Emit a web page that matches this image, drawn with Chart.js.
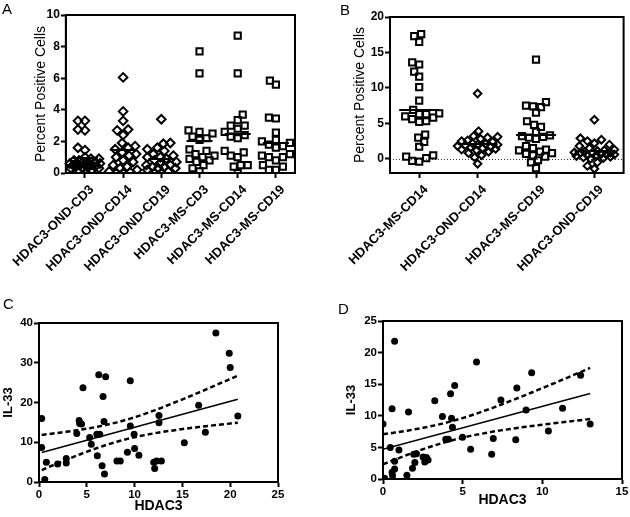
<!DOCTYPE html>
<html><head><meta charset="utf-8">
<script src="https://cdn.jsdelivr.net/npm/chart.js@4.4.0/dist/chart.umd.min.js"></script>
<style>
html,body{margin:0;padding:0;background:#fff;}
#wrap{position:relative;width:630px;height:517px;overflow:hidden;font-family:"Liberation Sans",Arial,Helvetica,sans-serif;background:#fff;}
canvas{position:absolute;}
.lbl{position:absolute;font-size:15px;line-height:1;color:#000;}
</style></head><body>
<div id="wrap">
<canvas id="cA" width="315" height="280" style="left:0;top:0"></canvas>
<canvas id="cB" width="315" height="280" style="left:315px;top:0"></canvas>
<canvas id="cC" width="315" height="237" style="left:0;top:280px"></canvas>
<canvas id="cD" width="315" height="237" style="left:315px;top:280px"></canvas>
<div class="lbl" style="left:2px;top:1px">A</div>
<div class="lbl" style="left:340px;top:2px">B</div>
<div class="lbl" style="left:3px;top:296px">C</div>
<div class="lbl" style="left:338px;top:301px">D</div>
</div>
<script>
// ---------- Panel A data ----------
const panelALabels = ['HDAC3-OND-CD3','HDAC3-OND-CD14','HDAC3-OND-CD19','HDAC3-MS-CD3','HDAC3-MS-CD14','HDAC3-MS-CD19'];
const aOndCd3 = [3.3,3.3,2.75,2.7,1.6,1.45,1.0,0.9,0.9,0.8,0.8,0.7,0.7,0.7,0.6,0.6,0.6,0.5,0.5,0.5,0.5,0.4,0.4,0.4,0.3,0.3,0.3,0.2,0.1,0.0];
const aOndCd14 = [6.05,3.9,3.3,2.75,2.7,2.4,1.9,1.7,1.6,1.5,1.3,1.2,1.1,1.0,0.8,0.7,0.5,0.4,0.3,0.2,0.1,0.05,0.0,0.0];
const aOndCd19 = [3.4,1.9,1.85,1.6,1.5,1.4,1.2,1.1,1.0,1.0,0.9,0.8,0.7,0.6,0.5,0.5,0.4,0.4,0.3,0.3,0.2,0.1,0.0,0.0];
const aMsCd3 = [7.7,6.3,2.7,2.6,2.5,2.3,2.2,2.1,1.5,1.4,1.2,1.1,1.0,0.9,0.8,0.7,0.5,0.3,0.1];
const aMsCd14 = [8.7,6.3,3.7,3.35,3.0,3.0,2.8,2.6,2.4,2.3,2.2,1.4,1.3,1.1,1.0,0.5,0.5,0.4,0.0];
const aMsCd19 = [5.85,5.6,3.45,3.5,2.55,2.1,2.0,1.9,1.8,1.7,1.6,1.2,1.1,1.0,1.0,0.8,0.5,0.4,0.2,0.2];
const panelAYTicks = [0,2,4,6,8,10];

// ---------- Panel B data ----------
const panelBLabels = ['HDAC3-MS-CD14','HDAC3-OND-CD14','HDAC3-MS-CD19','HDAC3-OND-CD19'];
const bMsCd14 = [17.6,17.3,16.5,13.6,13.3,12.3,11.6,10.1,8.2,6.9,6.4,6.3,6.3,6.0,5.8,5.6,5.3,5.2,3.4,3.0,2.4,1.7,0.5,0.3,0.1,-0.3,-0.4];
const bOndCd14 = [9.2,3.9,3.2,3.1,3.0,2.8,2.6,2.5,2.4,2.2,2.1,2.0,2.0,1.9,1.8,1.7,1.6,1.5,1.4,1.3,1.2,1.0,0.8,0.5,0.2,-0.7];
const bMsCd19 = [14.0,8.0,7.5,7.3,7.4,6.5,5.3,4.8,4.5,3.8,3.3,3.2,3.1,3.0,2.8,1.8,1.5,1.3,1.2,1.0,0.8,0.7,0.5,0.3,-0.2,-0.5,-1.3];
const bOndCd19 = [5.5,2.9,2.7,2.5,2.2,2.0,1.8,1.5,1.3,1.2,1.1,1.0,0.9,0.9,0.8,0.8,0.7,0.6,0.6,0.5,0.5,0.4,0.3,0.2,0.1,0.0,-0.5,-1.0,-1.4];
const panelBYTicks = [0,5,10,15,20];

// ---------- Panel C data (HDAC3 vs IL-33) ----------
const cHdac3 = [18.5,19.9,20.0,20.8,16.7,17.4,15.2,12.55,12.55,12.8,12.3,12.0,12.1,9.55,9.55,9.95,10.0,10.45,9.25,8.5,8.15,6.25,6.97,6.7,6.8,6.35,6.05,6.1,6.6,6.85,4.6,4.2,4.45,4.25,3.95,5.3,5.47,2.85,2.85,1.95,0.77,0.28,0.28,0.6];
const cIl33  = [37.5,32.4,28.8,16.6,19.3,12.5,9.9,16.7,14.9,5.3,5.3,5.0,3.4,25.5,14.1,12.0,8.4,6.7,7.5,5.3,5.3,27.0,26.5,21.5,15.2,12.0,12.0,6.6,4.1,2.0,23.7,15.5,14.6,14.7,12.2,11.2,9.5,5.9,4.8,4.5,5.0,16.0,8.7,0.6];

// ---------- Panel D data (HDAC3 vs IL-33) ----------
const dHdac3 = [0.73,5.87,9.33,12.4,4.5,4.24,8.4,3.25,7.4,11.27,8.98,0.57,1.6,3.73,4.3,4.36,0,13.0,10.38,4.99,3.94,4.1,6.92,8.33,5.5,6.82,0.46,1.0,0.73,1.93,2.1,2.0,2.52,2.62,2.73,2.83,1.85,0.73,0.57,0.6,1.5,0.1];
const dIl33  = [21.8,18.5,16.8,16.4,14.8,13.5,14.4,12.4,12.5,11.2,10.9,11.1,10.6,9.9,9.6,8.2,8.7,8.7,7.6,6.6,6.3,6.3,6.4,6.2,4.7,3.9,5.0,4.6,2.8,3.9,4.0,2.6,3.5,2.7,3.4,3.0,1.7,1.6,1.05,0.5,0.58,0.1];

const T95 = 2.02; // two-sided 95% t critical value, df ~ 40

// ---------- common ----------
const FONT = '"Liberation Sans", Arial, Helvetica, sans-serif';
Chart.defaults.font.family = FONT;
Chart.defaults.color = '#000';

const framePlugin = {
  id: 'frame',
  afterDraw(chart) {
    const {ctx, chartArea: a} = chart;
    ctx.save();
    ctx.strokeStyle = '#000';
    ctx.lineWidth = 2;
    ctx.strokeRect(a.left, a.top, a.right - a.left, a.bottom - a.top);
    ctx.restore();
  }
};

const swarmPlugin = {
  id: 'swarm',
  afterDatasetsUpdate(chart, args, opts) {
    const gap = opts.gap, spread = opts.spread;
    chart.data.datasets.forEach((ds, i) => {
      const meta = chart.getDatasetMeta(i);
      const pts = meta.data;
      if (!pts.length) return;
      const cx = chart.scales.x.getPixelForValue(i);
      const order = pts.map((p, k) => k).sort((a, b) => pts[b].y - pts[a].y);
      const placed = [];
      order.forEach((k, n) => {
        const p = pts[k];
        let best = 0, bestScore = -1;
        let found = false;
        for (let d = 0; d <= spread && !found; d += 1) {
          const sg = (n % 2 === 0) ? [1, -1] : [-1, 1];
          for (const s of sg) {
            const off = d * s;
            let minD = Infinity;
            for (const q of placed) {
              const dd = Math.hypot(q.x - (cx + off), q.y - p.y);
              if (dd < minD) minD = dd;
            }
            if (minD >= gap) { best = off; found = true; break; }
            if (minD > bestScore) { bestScore = minD; best = off; }
          }
        }
        p.x = cx + best;
        placed.push({x: p.x, y: p.y});
      });
    });
  }
};

const meanPlugin = {
  id: 'meanLine',
  afterDatasetsDraw(chart, args, opts) {
    const {ctx} = chart;
    const xs = chart.scales.x, ys = chart.scales.y;
    ctx.save();
    ctx.strokeStyle = '#000';
    ctx.lineWidth = 2;
    chart.data.datasets.forEach((ds, i) => {
      const vals = ds.data.map(d => d.y);
      const m = vals.reduce((s, v) => s + v, 0) / vals.length;
      const cx = xs.getPixelForValue(i), y = Math.round(ys.getPixelForValue(m));
      ctx.beginPath();
      ctx.moveTo(cx - opts.width / 2, y);
      ctx.lineTo(cx + opts.width / 2, y);
      ctx.stroke();
    });
    ctx.restore();
  }
};

const zeroLinePlugin = {
  id: 'zeroLine',
  beforeDatasetsDraw(chart, args, opts) {
    if (!opts.show) return;
    const {ctx, chartArea: a} = chart;
    const y = Math.round(chart.scales.y.getPixelForValue(0)) + 0.5;
    ctx.save();
    ctx.strokeStyle = '#333';
    ctx.lineWidth = 1;
    ctx.setLineDash([1, 2]);
    ctx.beginPath();
    ctx.moveTo(a.left, y);
    ctx.lineTo(a.right, y);
    ctx.stroke();
    ctx.restore();
  }
};

function tickGrid() {
  return {display: true, drawOnChartArea: false, drawTicks: true, tickLength: 5, tickWidth: 2, tickColor: '#000'};
}

function swarmChart(id, labels, series, shapes, radii, yMin, yMax, yTicks, box) {
  const datasets = series.map((vals, i) => ({
    data: vals.map(v => ({x: labels[i], y: v})),
    pointStyle: shapes[i],
    pointRadius: radii[i],
    pointHoverRadius: radii[i],
    borderColor: '#000',
    backgroundColor: 'rgba(0,0,0,0)',
    pointBorderWidth: 2,
    borderWidth: 2
  }));
  return new Chart(document.getElementById(id), {
    type: 'scatter',
    data: {labels, datasets},
    options: {
      responsive: false, animation: false, devicePixelRatio: 1,
      layout: {padding: {left: 0, top: box.top, right: box.right, bottom: 0}},
      plugins: {
        legend: {display: false}, tooltip: {enabled: false},
        swarm: {gap: box.gap, spread: box.spread},
        meanLine: {width: box.meanW},
        zeroLine: {show: box.zero}
      },
      scales: {
        x: {
          type: 'category', labels, offset: true,
          grid: tickGrid(),
          border: {display: true, color: '#000', width: 2},
          ticks: {maxRotation: 45, minRotation: 45, autoSkip: false, padding: 4, labelOffset: 7,
                  font: {size: 13, weight: 'bold'}},
          afterFit: s => { s.height = box.xh; }
        },
        y: {
          min: yMin, max: yMax,
          grid: tickGrid(),
          border: {display: true, color: '#000', width: 2},
          afterBuildTicks: s => { s.ticks = yTicks.map(v => ({value: v})); },
          ticks: {padding: 1, font: {size: 12, weight: 'bold'}},
          title: {display: true, text: 'Percent Positive Cells', font: {size: 14, weight: 'normal'},
                  padding: {top: box.titlePad, bottom: 0}},
          afterFit: s => { s.width = box.yw; }
        }
      }
    },
    plugins: [zeroLinePlugin, swarmPlugin, meanPlugin, framePlugin]
  });
}

function linFit(xs, ys) {
  const n = xs.length;
  const mx = xs.reduce((s, v) => s + v, 0) / n;
  const my = ys.reduce((s, v) => s + v, 0) / n;
  let sxx = 0, sxy = 0;
  for (let i = 0; i < n; i++) { sxx += (xs[i] - mx) ** 2; sxy += (xs[i] - mx) * (ys[i] - my); }
  const b = sxy / sxx, a = my - b * mx;
  let sse = 0;
  for (let i = 0; i < n; i++) sse += (ys[i] - a - b * xs[i]) ** 2;
  const s = Math.sqrt(sse / (n - 2));
  return {a, b, half: x => T95 * s * Math.sqrt(1 / n + (x - mx) ** 2 / sxx)};
}

function regChart(id, xs, ys, xMax, xStep, yMax, yStep, box) {
  const fit = linFit(xs, ys);
  const ux = [...new Set(xs)].sort((p, q) => p - q);
  const xLo = ux[0], xHi = ux[ux.length - 1];
  const pts = xs.map((x, i) => ({x, y: ys[i]}));
  const lineStyle = {showLine: true, pointRadius: 0, pointHoverRadius: 0, borderColor: '#000', backgroundColor: '#000', tension: 0};
  return new Chart(document.getElementById(id), {
    type: 'scatter',
    data: {datasets: [
      Object.assign({data: [{x: xLo, y: fit.a + fit.b * xLo}, {x: xHi, y: fit.a + fit.b * xHi}], borderWidth: 1.5}, lineStyle),
      Object.assign({data: ux.map(x => ({x, y: fit.a + fit.b * x + fit.half(x)})), borderWidth: 2.5, borderDash: [5, 3]}, lineStyle),
      Object.assign({data: ux.map(x => ({x, y: fit.a + fit.b * x - fit.half(x)})), borderWidth: 2.5, borderDash: [5, 3]}, lineStyle),
      {data: pts, pointRadius: 3.5, pointHoverRadius: 3.5, backgroundColor: '#000', borderWidth: 0, pointBorderWidth: 0}
    ]},
    options: {
      responsive: false, animation: false, devicePixelRatio: 1,
      layout: {padding: {left: 0, top: box.top, right: box.right, bottom: 0}},
      plugins: {legend: {display: false}, tooltip: {enabled: false}},
      scales: {
        x: {
          type: 'linear', min: 0, max: xMax,
          grid: tickGrid(),
          border: {display: true, color: '#000', width: 2},
          ticks: {stepSize: xStep, padding: 1, font: {size: 11.5, weight: 'bold'}},
          title: {display: true, text: 'HDAC3', font: {size: 14, weight: 'bold'}, padding: {top: 0, bottom: box.xTitlePad}},
          afterFit: s => { s.height = box.xh; }
        },
        y: {
          min: 0, max: yMax,
          grid: tickGrid(),
          border: {display: true, color: '#000', width: 2},
          ticks: {stepSize: yStep, padding: 1, font: {size: 11.5, weight: 'bold'}},
          title: {display: true, text: 'IL-33', font: {size: 13, weight: 'bold'}, padding: {top: box.yTitlePad, bottom: 0}},
          afterFit: s => { s.width = box.yw; }
        }
      }
    },
    plugins: [framePlugin]
  });
}

swarmChart('cA', panelALabels, [aOndCd3, aOndCd14, aOndCd19, aMsCd3, aMsCd14, aMsCd19],
  ['rectRot', 'rectRot', 'rectRot', 'rect', 'rect', 'rect'], [4.3, 4.3, 4.3, 4.4, 4.4, 4.4],
  0, 10, panelAYTicks,
  {top: 15, right: 20, xh: 107, yw: 52, titlePad: 18.6, gap: 7, spread: 15, meanW: 26, zero: false});

swarmChart('cB', panelBLabels, [bMsCd14, bOndCd14, bMsCd19, bOndCd19],
  ['rect', 'rectRot', 'rect', 'rectRot'], [4.4, 3.8, 4.4, 3.8],
  -2, 20, panelBYTicks,
  {top: 17, right: 3, xh: 107, yw: 75, titlePad: 36.6, gap: 7, spread: 20, meanW: 40, zero: true});

regChart('cC', cHdac3, cIl33, 25, 5, 40, 10,
  {top: 43, right: 37, xh: 35, yw: 39, xTitlePad: 2, yTitlePad: 1});

regChart('cD', dHdac3, dIl33, 15, 5, 25, 5,
  {top: 41, right: 8, xh: 38, yw: 68, xTitlePad: 8, yTitlePad: 29});
</script>
</body></html>
